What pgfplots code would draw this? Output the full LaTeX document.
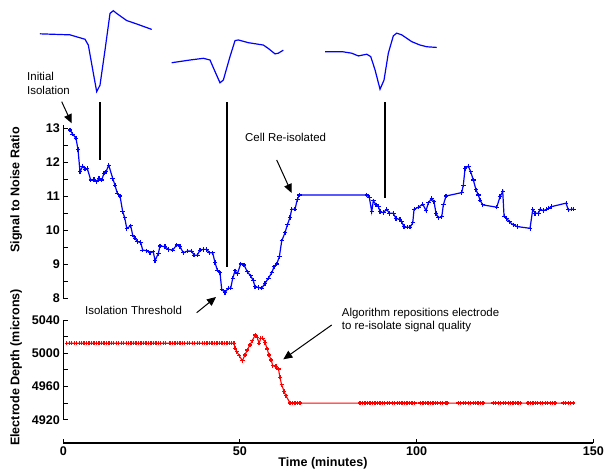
\documentclass[border=0pt]{standalone}
\usepackage{fontspec}
\setmainfont{Liberation Sans}
\usepackage{pgfplots}
\pgfplotsset{compat=1.18}
\usetikzlibrary{arrows.meta}
\pgfplotsset{
  myax/.style={
    scale only axis, width=530bp, xmin=0, xmax=150,
    anchor=south west, clip=false,
    axis lines=left, axis line style={draw=none},
    tick align=inside, tick pos=left,
    major tick length=4.5bp, minor tick length=4.5bp,
    every tick/.style={black, line width=1bp},
    /pgf/number format/assume math mode=true,
    /pgf/number format/1000 sep={},
    scaled ticks=false,
    tick label style={font=\fontsize{12.6}{13}\selectfont\bfseries},
    label style={font=\fontsize{12.6}{14}\selectfont\bfseries},
  }
}
\begin{document}
\begin{tikzpicture}
\useasboundingbox (0bp,0bp) rectangle (606bp,-470bp);

% ---------- top axis: SNR ----------
\begin{axis}[myax, at={(63.3bp,-298bp)}, height=173.4bp,
  ymin=8, ymax=13.1, ytick={8,9,10,11,12,13}, minor ytick={8.5,9.5,10.5,11.5,12.5},
  xtick=\empty,
  ylabel={Signal to Noise Ratio},
  ylabel style={at={(axis description cs:-0.089,0.623)}, anchor=center}]
\draw[line width=1.2bp] (axis cs:0,8) -- (axis cs:0,13.1);
% waveform insets
\addplot[blue, line width=1.2bp, no markers] coordinates {
(-6.60,15.77)(1.90,15.74)(6.14,15.61)(7.08,15.44)(8.49,14.62)(9.45,14.07)(10.39,14.26)(11.80,15.29)(13.22,16.37)(14.15,16.45)(15.11,16.37)(17.95,16.16)(20.78,16.06)(25.02,15.90)};
\addplot[blue, line width=1.2bp, no markers] coordinates {
(30.68,14.92)(35.86,15.00)(39.63,15.05)(41.52,15.00)(42.94,14.66)(44.35,14.33)(45.29,14.41)(47.18,15.10)(48.60,15.57)(49.53,15.59)(52.36,15.51)(56.61,15.44)(58.02,15.34)(59.92,15.18)(60.85,15.20)(62.27,15.29)};
\addplot[blue, line width=1.2bp, no markers] coordinates {
(74.07,15.24)(79.25,15.24)(81.63,15.20)(83.50,15.12)(85.88,15.17)(87.01,15.10)(88.23,14.71)(89.64,14.14)(90.77,14.41)(91.99,15.20)(93.40,15.71)(94.36,15.79)(95.78,15.74)(98.61,15.54)(100.96,15.44)(102.86,15.39)(105.69,15.37)};
% SNR series
\addplot[blue, line width=1.2bp, mark=+, mark size=2.2bp, mark options={line width=1.1bp}] coordinates {
(1.9,12.94)(2.66,12.82)(3.59,12.70)(4.16,12.37)(4.73,11.71)(5.49,11.88)(6.14,11.79)(6.79,11.81)(7.76,11.47)(8.69,11.49)(9.45,11.42)(10.10,11.52)(10.87,11.47)(11.52,11.67)(12.09,11.71)(12.85,11.91)(13.98,11.52)(14.63,11.32)(15.28,11.08)(16.05,11.00)(16.81,10.54)(17.38,10.36)(17.95,10.05)(19.08,10.12)(19.64,9.85)(20.29,9.76)(20.95,9.66)(21.91,9.63)(22.47,9.41)(23.61,9.39)(24.54,9.33)(25.47,9.36)(25.96,9.10)(26.89,9.31)(27.37,9.53)(28.78,9.51)(29.72,9.43)(30.97,9.41)(32.10,9.56)(33.03,9.51)(33.97,9.33)(35.10,9.38)(36.34,9.38)(36.99,9.26)(37.93,9.26)(38.69,9.41)(39.63,9.43)(40.59,9.43)(41.32,9.33)(42.29,9.33)(42.94,9.04)(43.59,8.82)(44.35,8.74)(44.83,8.26)(45.77,8.16)(46.70,8.29)(47.38,8.29)(47.95,8.58)(48.60,8.80)(49.25,8.71)(50.21,9.00)(51.15,8.97)(52.08,8.77)(53.04,8.65)(53.78,8.51)(54.26,8.33)(55.19,8.31)(56.16,8.29)(57.09,8.43)(58.02,8.58)(58.99,8.74)(59.64,8.92)(60.40,9.00)(61.14,9.21)(61.82,9.68)(62.75,9.92)(63.40,10.15)(64.17,10.37)(64.65,10.61)(65.58,10.61)(66.23,10.90)(66.80,11.03)(85.88,11.03)(86.61,10.96)(87.29,10.54)(87.74,10.86)(88.51,10.74)(89.16,10.69)(89.64,10.54)(90.57,10.51)(91.54,10.61)(92.27,10.49)(93.40,10.49)(94.17,10.34)(95.30,10.31)(95.78,10.24)(96.43,10.10)(97.37,10.08)(98.13,10.08)(98.90,10.21)(99.27,10.61)(100.48,10.67)(101.73,10.76)(102.67,10.57)(103.31,10.80)(104.27,10.93)(104.92,10.83)(105.49,10.49)(106.14,10.36)(107.11,10.39)(107.56,10.74)(108.32,11.00)(112.76,11.10)(113.22,11.32)(113.70,11.81)(114.63,11.88)(115.31,11.71)(116.05,11.47)(116.81,11.18)(117.46,11.03)(117.94,10.88)(118.71,10.74)(122.67,10.67)(123.60,10.98)(124.37,11.13)(124.74,10.41)(125.50,10.34)(126.24,10.24)(127.37,10.15)(128.50,10.10)(132.10,10.05)(132.86,10.61)(133.51,10.49)(134.45,10.49)(134.93,10.61)(135.86,10.57)(136.82,10.61)(137.28,10.64)(138.24,10.69)(142.29,10.79)(142.94,10.59)(143.90,10.61)(144.35,10.61)};
\end{axis}

% ---------- bottom axis: depth ----------
\begin{axis}[myax, at={(63.3bp,-443bp)}, height=123bp,
  ymin=4892, ymax=5040, ytick={4920,4960,5000,5040}, minor ytick={4940,4980,5020},
  xtick={0,50,100,150},
  xlabel={Time (minutes)},
  xlabel style={at={(axis description cs:0.49,-0.163)}, anchor=center},
  ylabel={Electrode Depth (microns)},
  ylabel style={at={(axis description cs:-0.089,0.614)}, anchor=center}]
\draw[line width=1.2bp] (axis cs:0,4920) -- (axis cs:0,5040);
\draw[line width=1.2bp] (axis cs:0,4892) -- (axis cs:150,4892);
\addplot[red, line width=1.1bp, mark=+, mark size=2.1bp, mark options={line width=1.3bp}] coordinates {
(1.0,5012)(1.7,5012)(2.4,5012)(3.1,5012)(3.8,5012)(4.5,5012)(5.2,5012)(5.9,5012)(6.6,5012)(7.3,5012)(8.0,5012)(8.7,5012)(9.4,5012)(10.1,5012)(10.8,5012)(11.5,5012)(12.2,5012)(12.9,5012)(13.6,5012)(14.3,5012)(15.0,5012)(15.7,5012)(16.4,5012)(17.1,5012)(17.8,5012)(18.5,5012)(19.2,5012)(19.9,5012)(20.6,5012)(21.3,5012)(22.0,5012)(22.7,5012)(23.4,5012)(24.1,5012)(24.8,5012)(25.5,5012)(26.2,5012)(26.9,5012)(27.6,5012)(28.3,5012)(29.0,5012)
(30.2,5012)(30.9,5012)(31.6,5012)(32.3,5012)(33.0,5012)(33.7,5012)(34.4,5012)(35.1,5012)(35.8,5012)(36.5,5012)(37.2,5012)(37.9,5012)(38.6,5012)(39.3,5012)(40.0,5012)(40.7,5012)(41.4,5012)(42.1,5012)(42.8,5012)(43.5,5012)(44.2,5012)(44.9,5012)(45.6,5012)(46.3,5012)(47.0,5012)(47.7,5012)
(48.3,5012)(48.6,5006)(49.1,5002)(49.8,4997)(50.7,4991)(51.4,4998)(52.1,5004)(52.8,5010)(53.5,5015)(54.3,5022)(54.9,5019)(55.4,5012)(55.9,5018)(56.4,5018)(57.1,5013)(57.7,5005)(58.2,4998)(58.8,4992)(59.3,4985)(60.2,4984)(60.9,4981)(61.3,4971)(61.8,4962)(62.5,4954)(63.0,4949)
(64.2,4940)(64.9,4940)(65.6,4940)(66.3,4940)(67.0,4940)
(84.0,4940)(84.7,4940)(85.4,4940)(86.1,4940)(86.8,4940)(87.5,4940)(88.2,4940)(88.9,4940)(89.6,4940)(90.3,4940)(91.0,4940)(91.7,4940)(92.4,4940)(93.1,4940)(93.8,4940)(94.5,4940)(95.2,4940)(95.9,4940)(96.6,4940)(97.3,4940)(98.0,4940)(98.7,4940)(99.4,4940)
(101.1,4940)(101.8,4940)(102.5,4940)(103.2,4940)(103.9,4940)(104.6,4940)(105.3,4940)(106.0,4940)(106.7,4940)(107.4,4940)(108.1,4940)(108.6,4940)
(111.8,4940)(112.5,4940)(113.2,4940)(113.9,4940)(114.6,4940)(115.3,4940)(116.0,4940)(116.7,4940)(117.4,4940)(118.1,4940)(118.8,4940)
(121.7,4940)(122.4,4940)(123.1,4940)(123.8,4940)(124.5,4940)(125.2,4940)(125.9,4940)(126.6,4940)(127.3,4940)(128.0,4940)(128.7,4940)(129.3,4940)
(131.5,4940)(132.2,4940)(132.9,4940)(133.6,4940)(134.3,4940)(135.0,4940)(135.7,4940)(136.4,4940)(137.1,4940)(137.8,4940)(138.5,4940)(139.2,4940)
(141.5,4940)(142.2,4940)(142.9,4940)(143.6,4940)(144.3,4940)};
\end{axis}

% ---------- annotations ----------
\begin{scope}[font=\fontsize{11.5}{12}\selectfont]
\node[anchor=base west, inner sep=0] at (27bp,-80bp) {Initial};
\node[anchor=base west, inner sep=0] at (27bp,-94bp) {Isolation};
\node[anchor=base west, inner sep=0] at (245bp,-141.5bp) {Cell Re-isolated};
\node[anchor=base west, inner sep=0] at (85bp,-314bp) {Isolation Threshold};
\node[anchor=base west, inner sep=0] at (341.7bp,-316bp) {Algorithm repositions electrode};
\node[anchor=base west, inner sep=0] at (341.7bp,-329.3bp) {to re-isolate signal quality};
\end{scope}
\begin{scope}[line width=1bp, -{Triangle[length=9bp,width=8bp]}]
\draw (61.7bp,-101.7bp) -- (71.7bp,-123.3bp);
\draw (276.7bp,-160bp) -- (291.7bp,-193bp);
\draw (196.7bp,-312.7bp) -- (216bp,-297bp);
\draw (331.7bp,-325bp) -- (283.3bp,-359.3bp);
\end{scope}
\draw[line width=1.2bp] (100bp,-102bp) -- (100bp,-160bp);
\draw[line width=1.2bp] (227bp,-102bp) -- (227bp,-267bp);
\draw[line width=1.2bp] (385bp,-102bp) -- (385bp,-198bp);
\end{tikzpicture}
\end{document}
